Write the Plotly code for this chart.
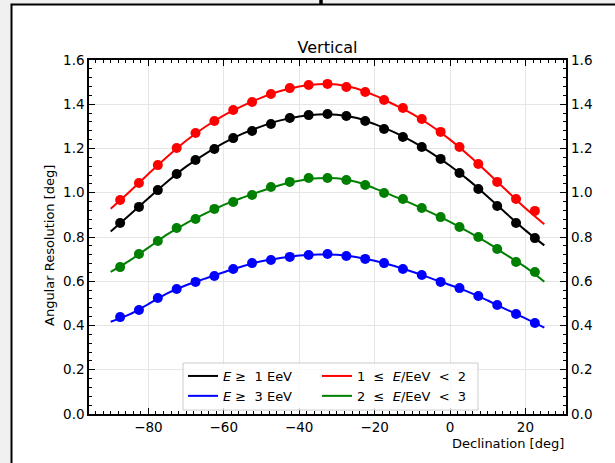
import plotly.graph_objects as go

# Declination bins (deg) where the resolution was measured
dec_points = [-87.5, -82.5, -77.5, -72.5, -67.5, -62.5, -57.5, -52.5, -47.5, -42.5, -37.5, -32.5,
              -27.5, -22.5, -17.5, -12.5, -7.5, -2.5, 2.5, 7.5, 12.5, 17.5, 22.5]

# Measured angular resolution (deg) per energy selection
res_e1 = [0.863, 0.936, 1.012, 1.085, 1.148, 1.198, 1.247, 1.279, 1.311, 1.338, 1.351, 1.356,
          1.347, 1.324, 1.288, 1.252, 1.207, 1.153, 1.089, 1.017, 0.940, 0.863, 0.795]
res_e1_2 = [0.967, 1.044, 1.125, 1.202, 1.270, 1.324, 1.374, 1.410, 1.446, 1.473, 1.487, 1.492,
            1.478, 1.455, 1.419, 1.383, 1.333, 1.275, 1.207, 1.130, 1.049, 0.972, 0.918]
res_e3 = [0.438, 0.470, 0.524, 0.565, 0.597, 0.624, 0.655, 0.682, 0.696, 0.710, 0.719, 0.723,
          0.714, 0.701, 0.682, 0.655, 0.628, 0.597, 0.569, 0.533, 0.493, 0.452, 0.411]
res_e2_3 = [0.664, 0.723, 0.782, 0.841, 0.881, 0.927, 0.958, 0.990, 1.026, 1.049, 1.067, 1.067,
            1.058, 1.035, 0.999, 0.972, 0.931, 0.890, 0.845, 0.800, 0.746, 0.687, 0.642]

# Smooth fitted curves (deg)
dec_fit = [-90, -85, -80, -75, -70, -65, -60, -55, -50, -45, -40, -35,
           -30, -25, -20, -15, -10, -5, 0, 5, 10, 15, 20, 25]
fit_e1 = [0.825, 0.900, 0.975, 1.050, 1.118, 1.175, 1.225, 1.267, 1.300, 1.327, 1.345, 1.354,
          1.353, 1.339, 1.310, 1.275, 1.232, 1.180, 1.122, 1.056, 0.982, 0.905, 0.830, 0.762]
fit_e1_2 = [0.928, 1.005, 1.085, 1.163, 1.235, 1.297, 1.350, 1.393, 1.430, 1.460, 1.480, 1.490,
            1.489, 1.472, 1.440, 1.400, 1.357, 1.303, 1.240, 1.168, 1.090, 1.010, 0.930, 0.858]
fit_e3 = [0.417, 0.450, 0.497, 0.545, 0.582, 0.612, 0.641, 0.668, 0.690, 0.705, 0.716, 0.721,
          0.720, 0.710, 0.693, 0.670, 0.643, 0.613, 0.583, 0.551, 0.513, 0.472, 0.432, 0.390]
fit_e2_3 = [0.642, 0.693, 0.752, 0.812, 0.862, 0.905, 0.945, 0.978, 1.008, 1.035, 1.054, 1.065,
            1.065, 1.050, 1.020, 0.985, 0.950, 0.910, 0.868, 0.822, 0.773, 0.718, 0.664, 0.598]

y_ticks = [0.0, 0.2, 0.4, 0.6, 0.8, 1.0, 1.2, 1.4, 1.6]
x_ticks = [-80, -60, -40, -20, 0, 20]

# (label, fit, points, colour, legend column)
series = [
    ("<i>E</i> ≥  1 EeV", fit_e1, res_e1, "#000000", "legend"),
    ("1  ≤  <i>E</i>/EeV  &lt;  2", fit_e1_2, res_e1_2, "#ff0000", "legend2"),
    ("<i>E</i> ≥  3 EeV", fit_e3, res_e3, "#0000ff", "legend"),
    ("2  ≤  <i>E</i>/EeV  &lt;  3", fit_e2_3, res_e2_3, "#008000", "legend2"),
]

FONT = "DejaVu Sans"
W, H = 615, 463
L, R, T, B = 89, 49, 60, 49
PW, PH = W - L - R, H - T - B


def px(x):
    return (x - L) / PW


def py(y):
    return (H - B - y) / PH


fig = go.Figure()
for name, fit, pts, color, leg in series:
    fig.add_trace(go.Scatter(x=dec_fit, y=fit, mode="lines", name=name, legend=leg,
                             line=dict(color=color, width=2, shape="spline")))
for name, fit, pts, color, leg in series:
    fig.add_trace(go.Scatter(x=dec_points, y=pts, mode="markers", showlegend=False,
                             marker=dict(color=color, size=10)))

# right-hand y labels
fig.add_trace(go.Scatter(x=[dec_fit[0]], y=[y_ticks[0]], yaxis="y2", mode="markers",
                         marker=dict(opacity=0), showlegend=False, hoverinfo="skip"))

axis_common = dict(showline=True, linecolor="black", linewidth=1.5, mirror="ticks",
                   ticks="inside", ticklen=6, tickwidth=1.2, tickcolor="black",
                   showgrid=True, gridcolor="#e5e5e5", gridwidth=1, zeroline=False,
                   tickfont=dict(family=FONT, size=13.5, color="black"))

legend_common = dict(orientation="v", yanchor="top", y=py(361), xanchor="left",
                     bgcolor="rgba(0,0,0,0)", borderwidth=0, tracegroupgap=0,
                     font=dict(family=FONT, size=13, color="black"))

fig.update_layout(
    width=W, height=H,
    margin=dict(l=L, r=R, t=T, b=B),
    paper_bgcolor="#f0f0f0",
    plot_bgcolor="white",
    font=dict(family=FONT, color="black"),
    title=dict(text="Vertical", xref="paper", x=0.5, xanchor="center",
               y=1 - 47 / H, yanchor="middle", font=dict(family=FONT, size=16, color="black")),
    xaxis=dict(range=[-95.75, 30.75], tickvals=x_ticks,
               ticktext=["−80", "−60", "−40", "−20", "0", "20"],
               minor=dict(dtick=2, tick0=0, ticks="inside", ticklen=3, tickcolor="black",
                          showgrid=False),
               **axis_common),
    yaxis=dict(range=[0, 1.6], tickvals=y_ticks,
               ticktext=[f"{v:.1f}" for v in y_ticks],
               minor=dict(dtick=0.04, tick0=0, ticks="inside", ticklen=3, tickcolor="black",
                          showgrid=False),
               **axis_common),
    yaxis2=dict(overlaying="y", side="right", range=[0, 1.6], tickvals=y_ticks,
                ticktext=[f"{v:.1f}" for v in y_ticks], ticks="", showgrid=False,
                showline=False, zeroline=False, ticklabelstandoff=4,
                tickfont=dict(family=FONT, size=13.5, color="black")),
    legend=dict(x=px(183), **legend_common),
    legend2=dict(x=px(317), **legend_common),
    showlegend=True,
)

# legend frame shared by both columns
fig.add_shape(type="rect", xref="paper", yref="paper", layer="above",
              x0=px(183), x1=px(478), y0=py(410), y1=py(363),
              fillcolor="rgba(255,255,255,0.8)", line=dict(color="#cccccc", width=1))

# axis titles
fig.add_annotation(text="Angular Resolution [deg]", xref="paper", yref="paper",
                   x=px(50), y=py(246), textangle=-90, showarrow=False,
                   xanchor="center", yanchor="middle",
                   font=dict(family=FONT, size=13, color="black"))
fig.add_annotation(text="Declination [deg]", xref="paper", yref="paper",
                   x=px(566), y=py(443), showarrow=False, xanchor="right", yanchor="middle",
                   font=dict(family=FONT, size=13, color="black"))

# outer figure frame
fig.add_shape(type="rect", xref="paper", yref="paper", layer="below",
              x0=px(11.5), x1=px(W + 20), y0=py(H + 20), y1=py(4.5),
              fillcolor="white", line=dict(color="black", width=2))
fig.add_shape(type="line", xref="paper", yref="paper",
              x0=px(321), x1=px(321), y0=py(4.5), y1=py(-5),
              line=dict(color="black", width=3.5))

fig.write_html("out.html")
